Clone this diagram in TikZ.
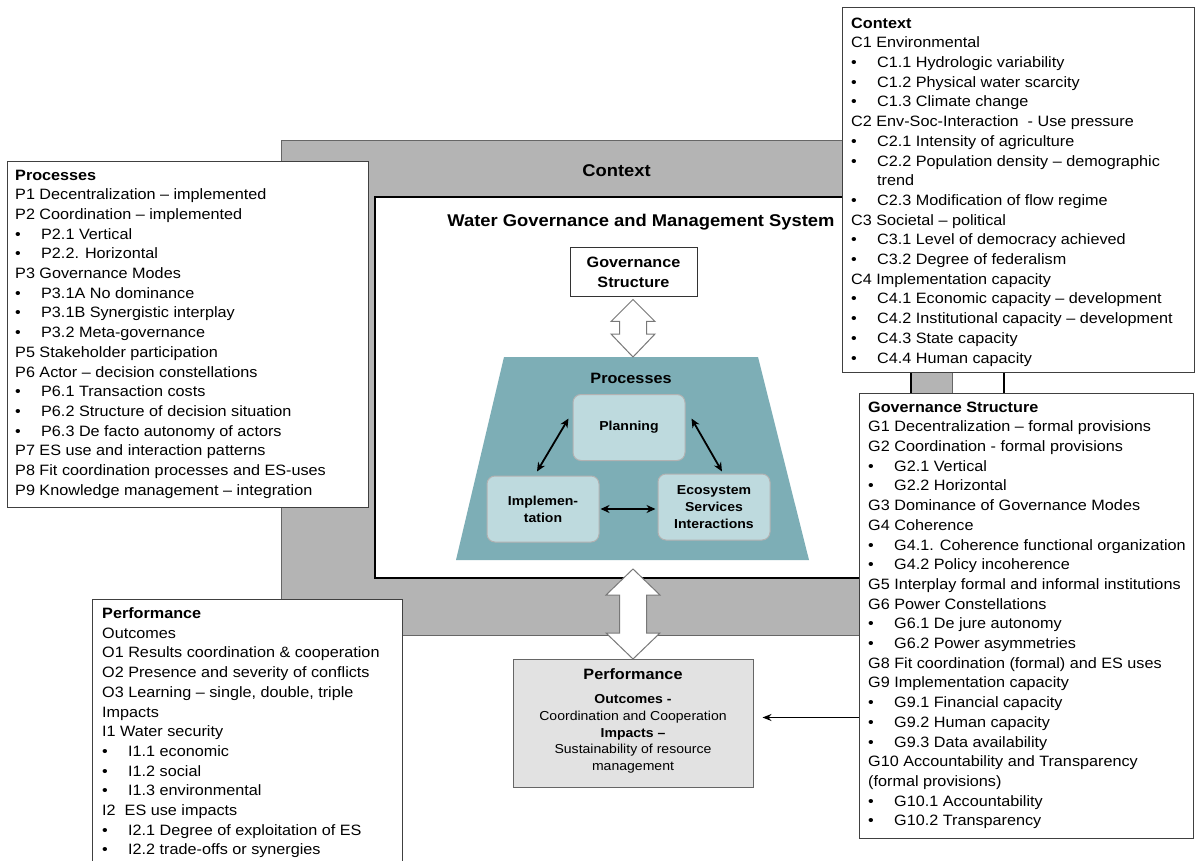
\documentclass[tikz,border=0pt]{standalone}
\usepackage{fontspec}
\setmainfont{Liberation Sans}[FakeStretch=1.08]
\usetikzlibrary{arrows.meta,calc}

\definecolor{framegray}{RGB}{180,180,180}
\definecolor{procteal}{RGB}{125,174,182}
\definecolor{steplight}{RGB}{190,218,222}
\definecolor{perfgray}{RGB}{226,226,226}
\definecolor{edgegray}{RGB}{120,120,120}

% bullet with hanging indent for list items
\newcommand\itm{\makebox[26pt][l]{\textbullet}}
\newcommand\listfont{\fontsize{15}{19.7}\selectfont}

\begin{document}
\begin{tikzpicture}[x=1pt,y=-1pt,
  listframe/.style={draw=black!75, line width=1.2pt, fill=white, inner sep=0pt, anchor=north west},
  listtext/.style={inner sep=0pt, anchor=north west, align=left, font=\listfont},
  stepbox/.style={rounded corners=8pt, fill=steplight, draw=black!30, line width=1pt,
    minimum width=112, minimum height=66, align=center,
    font=\bfseries\fontsize{13}{17}\selectfont},
  twoway/.style={{Stealth[length=9pt,width=8pt]}-{Stealth[length=9pt,width=8pt]}, line width=1.8pt},
  hollow/.style={draw=edgegray, fill=white, line width=1pt, line join=miter},
  bigbold/.style={font=\bfseries\fontsize{17}{20}\selectfont}]

\useasboundingbox (0,0) rectangle (1195,861);
\clip (0,0) rectangle (1195,861);

% outer context frame and the governance system inside it
\node[draw=black!60, fill=framegray, line width=1pt, minimum width=671, minimum height=495,
  anchor=north west, inner sep=0pt] (ctxframe) at (281,140) {};
\node[bigbold] (ctxlabel) at (616.5,171) {Context};
\node[draw=black, line width=1.8pt, fill=white, minimum width=536, minimum height=381,
  anchor=north west, inner sep=0pt] (wgms) at (374,196) {};
\node[bigbold] (wgmstitle) at (641,222) {Water Governance and Management System};

% governance structure box
\node[draw=black!80, line width=1pt, fill=white, minimum width=127, minimum height=49,
  align=center, font=\bfseries\fontsize{15}{19.5}\selectfont] (gs) at (633.5,272.5) {Governance\\Structure};

% processes trapezoid
\fill[procteal] (504,357) -- (758,357) -- (809,560) -- (456,560) -- cycle;
\coordinate (traptop) at (633,357);
\node[font=\bfseries\fontsize{15}{18}\selectfont] (proclabel) at (631,378) {Processes};

\node[stepbox] (plan) at (629,427.5) {Planning};
\node[stepbox] (impl) at (543,509) {Implemen-\\tation};
\node[stepbox] (eco) at (714,507) {Ecosystem\\Services\\Interactions};

\draw[twoway] ($(plan.west)+(-4,-9)$) -- ($(impl.north)+(-6,-4)$);
\draw[twoway] ($(plan.east)+(6,-9)$) -- ($(eco.north)+(8,-2)$);
\draw[twoway] ($(impl.east)+(1,0)$) -- ($(eco.west)+(-2,2)$);

% hollow double arrow: governance structure <-> processes
\coordinate (ua) at ($(gs.south)+(-0.5,2)$);
\draw[hollow] (ua) -- ++(22,22) -- ++(-8.5,0) -- ($(traptop)+(13.5,-23)$) -- ++(8.5,0)
  -- (traptop) -- ++(-22,-23) -- ++(8.5,0) -- ($(ua)+(-13.5,22)$) -- ++(-8.5,0) -- cycle;

% performance summary box
\node[draw=black!60, fill=perfgray, line width=1pt, minimum width=240, minimum height=128,
  anchor=north, inner sep=0pt] (perf) at (633,659) {};
\node[font=\bfseries\fontsize{15}{18}\selectfont] (perftitle) at (633,674) {Performance};
\node[align=center, font=\fontsize{13}{16.7}\selectfont, inner sep=0pt] (perfbody) at (633,734)
  {\textbf{Outcomes -}\\Coordination and Cooperation\\\textbf{Impacts –}\\Sustainability of resource\\management};

% hollow double arrow: system <-> performance
\coordinate (la) at (633,569);
\draw[hollow] (la) -- ++(27,26) -- ++(-13.5,0) -- ($(perf.north)+(13.5,-26)$) -- ++(13.5,0)
  -- (perf.north) -- ++(-27,-26) -- ++(13.5,0) -- ($(la)+(-13.5,26)$) -- ++(-13.5,0) -- cycle;

% Processes list
\node[listframe, minimum width=361, minimum height=346] (procbox) at (7,161) {};
\node[listtext] (proctext) at (15,169.5) {\textbf{Processes}\\
P1 Decentralization – implemented\\
P2 Coordination – implemented\\
\itm P2.1 Vertical\\
\itm P2.2. Horizontal\\
P3 Governance Modes\\
\itm P3.1A No dominance\\
\itm P3.1B Synergistic interplay\\
\itm P3.2 Meta-governance\\
P5 Stakeholder participation\\
P6 Actor – decision constellations\\
\itm P6.1 Transaction costs\\
\itm P6.2 Structure of decision situation\\
\itm P6.3 De facto autonomy of actors\\
P7 ES use and interaction patterns\\
P8 Fit coordination processes and ES-uses\\
P9 Knowledge management – integration};

% Context list
\node[listframe, minimum width=352, minimum height=365] (ctxbox) at (842,7) {};
\node[listtext] (ctxtext) at (851,17.5) {\textbf{Context}\\
C1 Environmental\\
\itm C1.1 Hydrologic variability\\
\itm C1.2 Physical water scarcity\\
\itm C1.3 Climate change\\
C2 Env-Soc-Interaction \ - Use pressure\\
\itm C2.1 Intensity of agriculture\\
\itm C2.2 Population density – demographic\\
\hspace*{26pt}trend\\
\itm C2.3 Modification of flow regime\\
C3 Societal – political\\
\itm C3.1 Level of democracy achieved\\
\itm C3.2 Degree of federalism\\
C4 Implementation capacity\\
\itm C4.1 Economic capacity – development\\
\itm C4.2 Institutional capacity – development\\
\itm C4.3 State capacity\\
\itm C4.4 Human capacity};

% Governance structure list
\node[listframe, minimum width=334, minimum height=445] (govbox) at (859,393) {};
\node[listtext] (govtext) at (868,401.5) {\textbf{Governance Structure}\\
G1 Decentralization – formal provisions\\
G2 Coordination - formal provisions\\
\itm G2.1 Vertical\\
\itm G2.2 Horizontal\\
G3 Dominance of Governance Modes\\
G4 Coherence\\
\itm G4.1. Coherence functional organization\\
\itm G4.2 Policy incoherence\\
G5 Interplay formal and informal institutions\\
G6 Power Constellations\\
\itm G6.1 De jure autonomy\\
\itm G6.2 Power asymmetries\\
G8 Fit coordination (formal) and ES uses\\
G9 Implementation capacity\\
\itm G9.1 Financial capacity\\
\itm G9.2 Human capacity\\
\itm G9.3 Data availability\\
G10 Accountability and Transparency\\
(formal provisions)\\
\itm G10.1 Accountability\\
\itm G10.2 Transparency};

% link between the context and governance structure lists
\draw[line width=1.8pt] ($(ctxbox.south west)+(162,0)$) -- ($(govbox.north west)+(145,0)$);

% Performance list
\node[listframe, minimum width=310, minimum height=280] (perfbox) at (92,599) {};
\node[listtext] (perftext) at (102,607.5) {\textbf{Performance}\\
Outcomes\\
O1 Results coordination \& cooperation\\
O2 Presence and severity of conflicts\\
O3 Learning – single, double, triple\\
Impacts\\
I1 Water security\\
\itm I1.1 economic\\
\itm I1.2 social\\
\itm I1.3 environmental\\
I2 \ ES use impacts\\
\itm I2.1 Degree of exploitation of ES\\
\itm I2.2 trade-offs or synergies};

% governance structure feeds performance
\coordinate (pin) at ([xshift=9pt,yshift=6pt]perf.east);
\draw[line width=1.3pt, -{Stealth[length=9pt,width=7pt]}] (govbox.west |- pin) -- (pin);

\end{tikzpicture}
\end{document}
